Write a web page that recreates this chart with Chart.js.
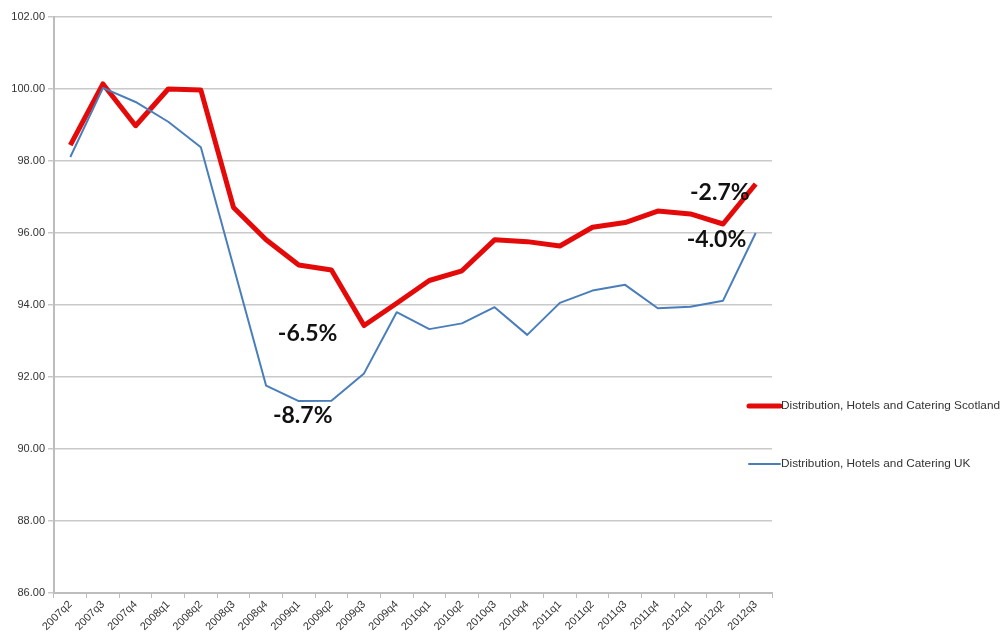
<!DOCTYPE html>
<html>
<head>
<meta charset="utf-8">
<title>Distribution, Hotels and Catering</title>
<script src="https://cdn.jsdelivr.net/npm/chart.js@4/dist/chart.umd.min.js"></script>
<style>
    html, body { margin: 0; padding: 0; background: #fff; }
    #wrap { width: 1004px; height: 639px; position: relative; }
</style>
</head>
<body>
<div id="wrap"><canvas id="gva-chart"></canvas></div>
<script>
// Quarters on the x axis
const quarters = [
    '2007q2', '2007q3', '2007q4', '2008q1', '2008q2', '2008q3', '2008q4',
    '2009q1', '2009q2', '2009q3', '2009q4', '2010q1', '2010q2', '2010q3',
    '2010q4', '2011q1', '2011q2', '2011q3', '2011q4', '2012q1', '2012q2', '2012q3'
];

// Index values (peak = 100)
const scotlandValues = [
    98.44, 100.14, 98.98, 100.00, 99.97, 96.71, 95.81,
    95.11, 94.97, 93.43, 94.05, 94.68, 94.95, 95.81,
    95.76, 95.64, 96.16, 96.29, 96.61, 96.53, 96.25, 97.36
];
const ukValues = [
    98.11, 100.03, 99.64, 99.09, 98.38, 95.07, 91.76,
    91.33, 91.34, 92.10, 93.80, 93.33, 93.49, 93.94,
    93.17, 94.06, 94.40, 94.56, 93.91, 93.95, 94.12, 96.00
];

const seriesNames = [
    'Distribution, Hotels and Catering Scotland',
    'Distribution, Hotels and Catering UK'
];

// Y axis ticks
const yTicks = [86, 88, 90, 92, 94, 96, 98, 100, 102];

// Change-from-peak callouts
const calloutTexts = ['-6.5%', '-8.7%', '-2.7%', '-4.0%'];

const RED = '#e50a0a';
const BLUE = '#4a7ebb';
const GRID = '#c9c9c9';

// where each callout sits: [category index, value]
const calloutAnchors = [[7.27, 93.22], [7.12, 90.92], [19.9, 97.11], [19.8, 95.81]];

const calloutPlugin = {
    id: 'callouts',
    afterDatasetsDraw(chart) {
        const { ctx, scales } = chart;
        ctx.save();
        ctx.font = 'bold 23px Lato, "Open Sans", sans-serif';
        ctx.fillStyle = '#111';
        ctx.textAlign = 'center';
        ctx.textBaseline = 'middle';
        calloutTexts.forEach((t, i) => {
            const [ix, v] = calloutAnchors[i];
            ctx.fillText(t, scales.x.getPixelForValue(ix), scales.y.getPixelForValue(v));
        });
        ctx.restore();
    }
};

// Legend sits to the right, overlapping the plot edge a little
const sideLegend = {
    id: 'sideLegend',
    afterDraw(chart) {
        const { ctx } = chart;
        const rows = [406, 464];
        ctx.save();
        ctx.font = '11.8px "Liberation Sans", Arial, sans-serif';
        ctx.fillStyle = '#333';
        ctx.textBaseline = 'middle';
        chart.data.datasets.forEach((ds, i) => {
            const y = rows[i];
            ctx.strokeStyle = ds.borderColor;
            ctx.lineWidth = ds.borderWidth;
            ctx.lineCap = 'round';
            ctx.beginPath();
            ctx.moveTo(749, y);
            ctx.lineTo(780, y);
            ctx.stroke();
            ctx.fillText(ds.label, 781, y);
        });
        ctx.restore();
    }
};

const ctx = document.getElementById('gva-chart');

new Chart(ctx, {
    type: 'line',
    data: {
        labels: quarters,
        datasets: [
            {
                label: seriesNames[0],
                data: scotlandValues,
                borderColor: RED,
                backgroundColor: RED,
                borderWidth: 5,
                borderJoinStyle: 'round',
                pointRadius: 0,
                tension: 0,
                order: 1
            },
            {
                label: seriesNames[1],
                data: ukValues,
                borderColor: BLUE,
                backgroundColor: BLUE,
                borderWidth: 2,
                borderJoinStyle: 'round',
                pointRadius: 0,
                tension: 0,
                order: 0
            }
        ]
    },
    options: {
        responsive: true,
        maintainAspectRatio: false,
        animation: false,
        layout: { padding: { top: 17, right: 232, left: 0, bottom: 0 } },
        plugins: {
            legend: { display: false },
            tooltip: { enabled: false }
        },
        scales: {
            x: {
                offset: true,
                afterFit: (s) => { s.height = 46; },
                border: { color: '#bdbdbd', width: 2 },
                grid: {
                    offset: true,
                    drawOnChartArea: false,
                    drawTicks: true,
                    tickLength: 5,
                    color: '#bdbdbd',
                    lineWidth: 1
                },
                ticks: {
                    minRotation: 45,
                    maxRotation: 45,
                    autoSkip: false,
                    padding: 0,
                    color: '#333',
                    font: { family: '"Liberation Sans", Arial, sans-serif', size: 11 }
                }
            },
            y: {
                min: 86,
                max: 102,
                afterFit: (s) => { s.width = 54; },
                afterBuildTicks: (s) => { s.ticks = yTicks.map(v => ({ value: v })); },
                border: { color: '#bdbdbd', width: 2 },
                grid: {
                    color: GRID,
                    lineWidth: 1.5,
                    tickLength: 6
                },
                ticks: {
                    padding: 3,
                    color: '#333',
                    font: { family: '"Liberation Sans", Arial, sans-serif', size: 11 },
                    callback: (v) => Number(v).toFixed(2)
                }
            }
        }
    },
    plugins: [calloutPlugin, sideLegend]
});
</script>
</body>
</html>
